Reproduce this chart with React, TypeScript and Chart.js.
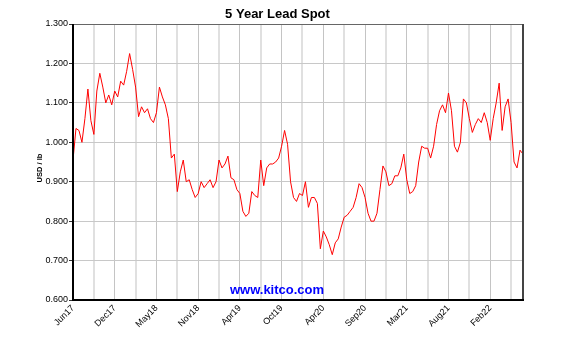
import { useEffect, useRef } from "react";
import { Chart, registerables } from "chart.js";

Chart.register(...registerables);

const chartTitle = "5 Year Lead Spot";
const yAxisTitle = "USD / lb";
const watermark = "www.kitco.com";

// tick labels along the date axis (one every second vertical grid line)
const dateLabels = ["Jun17", "Dec17", "May18", "Nov18", "Apr19", "Oct19", "Apr20", "Sep20", "Mar21", "Aug21", "Feb22"];
// price axis ticks (USD / lb)
const priceTicks = [0.6, 0.7, 0.8, 0.9, 1.0, 1.1, 1.2, 1.3];
// samples between two vertical grid lines
const samplesPerGrid = 7;

// lead spot price, USD / lb, sampled evenly across the 5 years
const leadPrice = [
  0.955, 1.035, 1.03, 1.0, 1.06, 1.135, 1.055, 1.02, 1.13, 1.175,
  1.14, 1.1, 1.12, 1.095, 1.13, 1.115, 1.155, 1.145, 1.18, 1.225,
  1.185, 1.14, 1.065, 1.09, 1.075, 1.085, 1.06, 1.05, 1.075, 1.14,
  1.115, 1.095, 1.06, 0.96, 0.97, 0.875, 0.925, 0.955, 0.9, 0.905,
  0.88, 0.86, 0.87, 0.9, 0.885, 0.895, 0.905, 0.885, 0.9, 0.955,
  0.935, 0.945, 0.965, 0.91, 0.905, 0.88, 0.87, 0.825, 0.812, 0.82,
  0.875, 0.865, 0.86, 0.955, 0.89, 0.935, 0.945, 0.945, 0.95, 0.96,
  0.99, 1.03, 0.995, 0.9, 0.86, 0.85, 0.87, 0.865, 0.9, 0.835,
  0.86, 0.86, 0.845, 0.73, 0.775, 0.76, 0.74, 0.715, 0.745, 0.755,
  0.785, 0.81, 0.815, 0.825, 0.835, 0.86, 0.895, 0.885, 0.86, 0.82,
  0.8, 0.8, 0.82, 0.88, 0.94, 0.925, 0.89, 0.895, 0.915, 0.915,
  0.935, 0.97, 0.905, 0.87, 0.875, 0.89, 0.95, 0.99, 0.985, 0.985,
  0.96, 0.99, 1.045, 1.08, 1.095, 1.075, 1.125, 1.08, 0.99, 0.975,
  1.0, 1.11, 1.1, 1.06, 1.025, 1.045, 1.06, 1.05, 1.075, 1.05,
  1.005, 1.06, 1.1, 1.15, 1.03, 1.09, 1.11, 1.05, 0.95, 0.935,
  0.98, 0.97,
];

const FONT = "'Liberation Sans', Arial, Helvetica, sans-serif";

export default function App() {
  const ref = useRef<HTMLCanvasElement | null>(null);

  useEffect(() => {
    if (!ref.current) return;
    const lastIndex = leadPrice.length - 1;
    const labelEvery = samplesPerGrid * 2;

    const framePlugin = {
      id: "frame",
      afterDraw(chart: any) {
        const { ctx, chartArea } = chart;
        const { left, right, top, bottom } = chartArea;
        ctx.save();
        // top border
        ctx.strokeStyle = "#666666";
        ctx.lineWidth = 1;
        ctx.beginPath();
        ctx.moveTo(left, top + 0.5);
        ctx.lineTo(right, top + 0.5);
        ctx.stroke();
        // right border
        ctx.strokeStyle = "#444444";
        ctx.lineWidth = 2;
        ctx.beginPath();
        ctx.moveTo(right, top);
        ctx.lineTo(right, bottom);
        ctx.stroke();
        // left & bottom axes
        ctx.strokeStyle = "#000000";
        ctx.lineWidth = 2;
        ctx.beginPath();
        ctx.moveTo(left, top);
        ctx.lineTo(left, bottom);
        ctx.lineTo(right + 1, bottom);
        ctx.stroke();

        // title
        ctx.fillStyle = "#000";
        ctx.font = `bold 13px ${FONT}`;
        ctx.textAlign = "center";
        ctx.textBaseline = "alphabetic";
        ctx.fillText(chartTitle, 277.5, 18);

        // watermark
        ctx.fillStyle = "#0000ff";
        ctx.font = `bold 13px ${FONT}`;
        ctx.fillText(watermark, 277, 294);

        // y axis title
        ctx.fillStyle = "#000";
        ctx.font = `bold 7.5px ${FONT}`;
        ctx.translate(42, 168);
        ctx.rotate(-Math.PI / 2);
        ctx.textAlign = "center";
        ctx.textBaseline = "alphabetic";
        ctx.fillText(yAxisTitle, 0, 0);
        ctx.restore();
      },
    };

    const chart = new Chart(ref.current, {
      type: "line",
      data: {
        datasets: [
          {
            data: leadPrice.map((v, i) => ({ x: i, y: v })),
            borderColor: "#ff0000",
            borderWidth: 1,
            pointRadius: 0,
            tension: 0,
            fill: false,
          },
        ],
      },
      options: {
        animation: false,
        responsive: false,
        events: [],
        layout: { padding: { left: 0, right: 51, top: 24, bottom: 0 } },
        plugins: {
          legend: { display: false },
          title: { display: false },
          tooltip: { enabled: false },
        },
        scales: {
          x: {
            type: "linear",
            min: 0,
            max: lastIndex,
            afterBuildTicks: (scale: any) => {
              const t = [];
              for (let v = 0; v <= lastIndex; v += samplesPerGrid) t.push({ value: v });
              scale.ticks = t;
            },
            afterFit: (scale: any) => {
              scale.height = 41;
            },
            border: { display: false },
            grid: {
              color: (c: any) =>
                c.tick && c.tick.value % labelEvery === 0 ? "#c4c4c4" : "#e0e0e0",
              lineWidth: (c: any) => (c.tick && c.tick.value % labelEvery === 0 ? 1 : 2),
              drawTicks: false,
            },
            ticks: {
              autoSkip: false,
              minRotation: 45,
              maxRotation: 45,
              padding: 3,
              color: "#000",
              font: { family: FONT, size: 9 },
              callback: (value: any) => {
                const v = Number(value);
                return v % labelEvery === 0 ? dateLabels[v / labelEvery] ?? "" : "";
              },
            },
          },
          y: {
            type: "linear",
            min: priceTicks[0],
            max: priceTicks[priceTicks.length - 1],
            afterBuildTicks: (scale: any) => {
              scale.ticks = priceTicks.map((v) => ({ value: v }));
            },
            afterFit: (scale: any) => {
              scale.width = 73;
            },
            border: { display: false },
            grid: {
              color: "#c8c8c8",
              lineWidth: 1,
              drawTicks: true,
              tickLength: 4,
              tickColor: "#333",
            },
            ticks: {
              padding: 1,
              color: "#000",
              font: { family: FONT, size: 9 },
              callback: (value: any) => Number(value).toFixed(3),
            },
          },
        },
      },
      plugins: [framePlugin],
    } as any);

    return () => chart.destroy();
  }, []);

  return (
    <div style={{ position: "absolute", left: 0, top: 0, width: 574, height: 341, background: "#fff" }}>
      <canvas ref={ref} width={574} height={341} style={{ display: "block" }} />
    </div>
  );
}
